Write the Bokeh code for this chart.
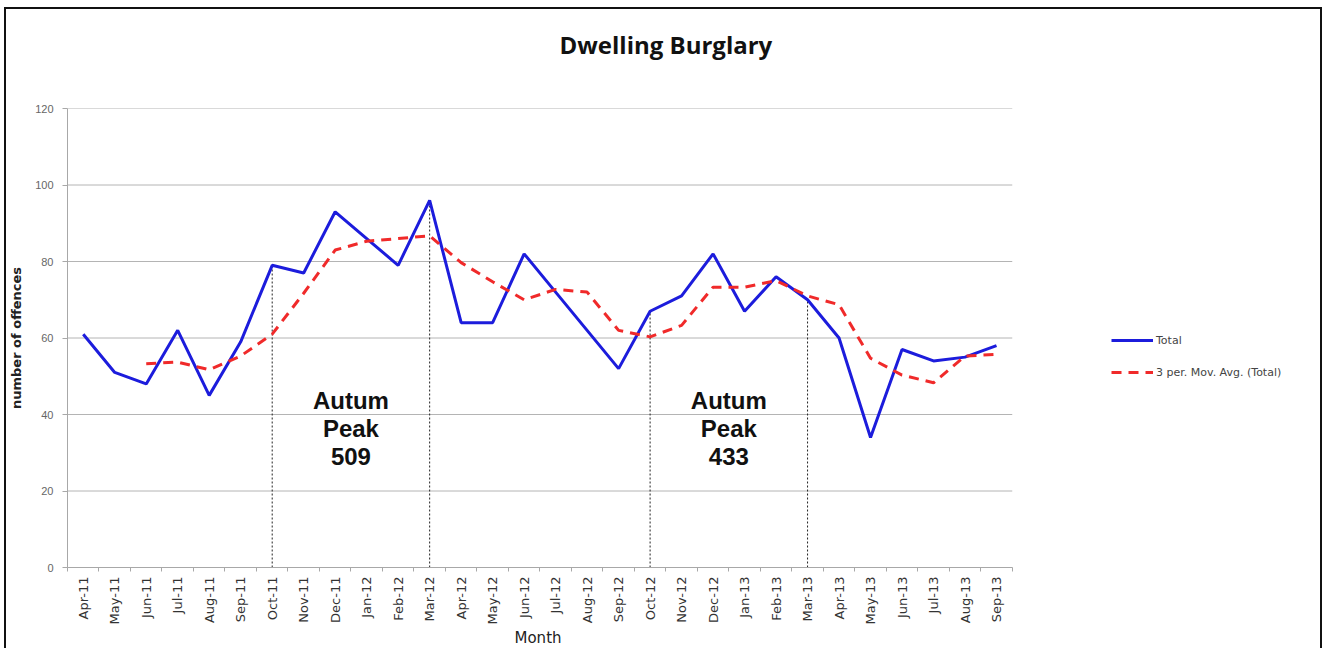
from bokeh.plotting import figure
from bokeh.models import Range1d, FixedTicker, Legend, LegendItem, Title
from bokeh.embed import file_html
from bokeh.resources import INLINE
from bokeh.core.properties import value

months = ["Apr-11", "May-11", "Jun-11", "Jul-11", "Aug-11", "Sep-11", "Oct-11", "Nov-11",
          "Dec-11", "Jan-12", "Feb-12", "Mar-12", "Apr-12", "May-12", "Jun-12", "Jul-12",
          "Aug-12", "Sep-12", "Oct-12", "Nov-12", "Dec-12", "Jan-13", "Feb-13", "Mar-13",
          "Apr-13", "May-13", "Jun-13", "Jul-13", "Aug-13", "Sep-13"]
total = [61, 51, 48, 62, 45, 59, 79, 77, 93, 86, 79, 96, 64, 64, 82, 72, 62, 52,
         67, 71, 82, 67, 76, 70, 60, 34, 57, 54, 55, 58]
# 3-period moving average, first value at Jun-11
mov_avg = [53.3, 53.7, 51.7, 55.3, 61.0, 71.7, 83.0, 85.3, 86.0, 86.7, 79.7, 74.7,
           70.0, 72.7, 72.0, 62.0, 60.3, 63.3, 73.3, 73.3, 75.0, 71.0, 68.7, 54.7,
           50.3, 48.3, 55.3, 55.7]
y_ticks = [0, 20, 40, 60, 80, 100, 120]
peak_start = ["Oct-11", "Oct-12"]
peak_end = ["Mar-12", "Mar-13"]
peak_labels = ["Autum\nPeak\n509", "Autum\nPeak\n433"]
peak_label_y = 36.3

n = len(months)
x = list(range(n))
ma_x = x[n - len(mov_avg):]
boundaries = [i - 0.5 for i in range(n + 1)]

# layout (pixels): the category axis occupies 944 px; the frame continues to the
# right so that the legend can sit in the blank area beside the plot
W, H = 1318, 641
ML, MR, MT, MB = 58, 6, 99, 80
axis_px = 944
frame_px = (W - 4) - ML - MR
x_end = -0.5 + n * frame_px / axis_px

p = figure(width=W, height=H, output_backend="svg", toolbar_location=None,
           x_range=Range1d(-0.5, x_end), y_range=Range1d(0, 120),
           min_border_left=ML, min_border_top=MT, min_border_right=MR, min_border_bottom=MB,
           styles={"border-left": "2px solid #111", "border-right": "2px solid #111",
                   "border-top": "2px solid #111", "margin-left": "4px", "margin-top": "7px"})
p.title = None
p.outline_line_color = None
p.background_fill_color = "white"
p.border_fill_color = "white"

# titles in the top panel: a blank spacer next to the frame, then the title
p.add_layout(Title(text=" ", text_font_size="1px", standoff=40), "above")
p.add_layout(Title(text="Dwelling Burglary", align="left", offset=492, standoff=10,
                   text_font="Open Sans", text_font_size="24px", text_font_style="bold",
                   text_color="#111111"), "above")

# horizontal grid lines limited to the category area
p.segment(x0=[-0.5] * len(y_ticks), y0=y_ticks, x1=[n - 0.5] * len(y_ticks), y1=y_ticks,
          line_color="#b4b4b4", line_width=1)

# vertical dotted lines marking peak periods
vx = [months.index(m) for m in peak_start + peak_end]
vy = [total[i] for i in vx]
p.segment(x0=vx, y0=[0] * len(vx), x1=vx, y1=vy, line_color="#222222",
          line_width=1, line_dash="2 2")

r_tot = p.line(x, total, line_color="#1c1cdc", line_width=3)
r_ma = p.line(ma_x, mov_avg, line_color="#f02a2a", line_width=3, line_dash="10 7")

lab_x = [(months.index(a) + months.index(b)) / 2 for a, b in zip(peak_start, peak_end)]
p.text(x=lab_x, y=[peak_label_y] * len(lab_x), text=peak_labels,
       text_font=value("Liberation Sans"), text_font_size="24px", text_font_style="bold",
       text_align="center", text_baseline="middle", text_line_height=1.05,
       text_color="#111111")

# axes
p.xaxis.bounds = (-0.5, n - 0.5)
p.xaxis.ticker = FixedTicker(ticks=x, minor_ticks=boundaries)
p.xaxis.major_label_overrides = {i: m for i, m in enumerate(months)}
p.xaxis.major_label_orientation = 1.5708
p.xaxis.major_label_text_font = "DejaVu Sans"
p.xaxis.major_label_text_font_size = "13px"
p.xaxis.major_label_text_color = "#333333"
p.xaxis.major_label_standoff = 5
p.xaxis.major_tick_in = 0
p.xaxis.major_tick_out = 0
p.xaxis.major_tick_line_color = None
p.xaxis.minor_tick_in = 0
p.xaxis.minor_tick_out = 4
p.xaxis.minor_tick_line_color = "#a8a8a8"

# x axis title, centred under the category area
p.add_layout(Title(text="Month", align="left", offset=447, standoff=3, vertical_align="top",
                   text_font="DejaVu Sans", text_font_size="15px", text_font_style="normal",
                   text_color="#222222"), "below")

p.yaxis.ticker = FixedTicker(ticks=y_ticks)
p.yaxis.major_label_text_font = "Liberation Sans"
p.yaxis.major_label_text_font_size = "11px"
p.yaxis.major_label_text_color = "#666666"
p.yaxis.major_label_standoff = 9
p.yaxis.major_tick_in = 0
p.yaxis.major_tick_out = 5
p.yaxis.major_tick_line_color = "#a8a8a8"
p.yaxis.minor_tick_line_color = None
p.yaxis.axis_label = "number of offences"
p.yaxis.axis_label_text_font = "DejaVu Sans"
p.yaxis.axis_label_text_font_size = "13px"
p.yaxis.axis_label_text_font_style = "bold"
p.yaxis.axis_label_text_color = "#222222"
p.yaxis.axis_label_standoff = 8

for ax in (p.xaxis, p.yaxis):
    ax.axis_line_color = "#a8a8a8"

p.xgrid.visible = False
p.ygrid.visible = False

legend = Legend(items=[LegendItem(label="Total", renderers=[r_tot]),
                       LegendItem(label="3 per. Mov. Avg. (Total)", renderers=[r_ma])],
                location=(1044, 185), border_line_color=None, background_fill_alpha=0,
                padding=0, margin=0, spacing=12, glyph_width=42, glyph_height=20,
                label_standoff=3, label_text_font="DejaVu Sans",
                label_text_font_size="11px", label_text_color="#444444")
p.add_layout(legend)

open("out.html", "w").write(file_html(p, INLINE))
